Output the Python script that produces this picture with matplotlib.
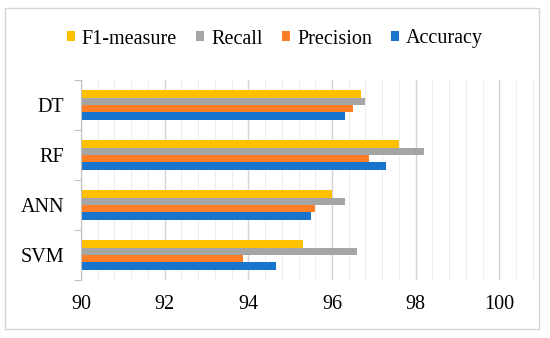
"""Grouped horizontal bar chart: classifier metrics."""

import matplotlib
matplotlib.use("Agg")
import matplotlib.pyplot as plt
import numpy as np
from matplotlib.patches import Rectangle, Patch
from matplotlib.ticker import MultipleLocator, FixedLocator

models = ["SVM", "ANN", "RF", "DT"]
series = ["Accuracy", "Precision", "Recall", "F1-measure"]
accuracy = [94.65, 95.49, 97.30, 96.30]
precision = [93.88, 95.59, 96.89, 96.49]
recall = [96.59, 96.30, 98.20, 96.80]
f1_measure = [95.30, 96.00, 97.59, 96.70]
x_ticks = [90, 92, 94, 96, 98, 100]

colors = {
    "Accuracy": "#1874CD",
    "Precision": "#FF7F27",
    "Recall": "#A5A5A5",
    "F1-measure": "#FFC000",
}

plt.rcParams["font.family"] = ["Liberation Serif", "DejaVu Serif"]
fs = 14.5

fig = plt.figure(figsize=(5.5, 3.38), dpi=100)
ax = fig.add_axes([81 / 550, 1 - 280 / 338, (537 - 81) / 550, 200 / 338])

# chart border
fig.patches.append(Rectangle(
    (5 / 550, 1 - 329 / 338), (539 - 5) / 550, (329 - 8) / 338,
    transform=fig.transFigure, facecolor="none", edgecolor="#D6D6D6",
    linewidth=1.0))

y = np.arange(len(models))
h = 0.148
values = [accuracy, precision, recall, f1_measure]
for i, (name, vals) in enumerate(zip(series, values)):
    ax.barh(y + (i - 1.5) * h, np.array(vals) - 90, left=90, height=h,
            color=colors[name], zorder=3)

ax.set_xlim(90, 100.9)
ax.set_ylim(-0.5, len(models) - 0.5)
ax.xaxis.set_major_locator(FixedLocator(x_ticks))
ax.xaxis.set_minor_locator(MultipleLocator(0.4))
ax.grid(axis="x", which="major", color="#D4D4D4", linewidth=1.0, zorder=0)
ax.grid(axis="x", which="minor", color="#EDEDED", linewidth=0.8, zorder=0)
ax.tick_params(axis="x", which="both", length=0, labelsize=fs, pad=11)

ax.set_yticks(y)
ax.set_yticklabels(models)
ax.yaxis.set_minor_locator(FixedLocator(np.arange(-0.5, len(models), 1.0)))
ax.tick_params(axis="y", which="major", length=0, labelsize=fs, pad=12)
ax.tick_params(axis="y", which="minor", length=5, color="#BFBFBF", width=0.8)

for side in ["top", "right", "bottom"]:
    ax.spines[side].set_visible(False)
ax.spines["left"].set_color("#BFBFBF")
ax.spines["left"].set_linewidth(0.8)
ax.spines["left"].set_zorder(4)

handles = [Patch(facecolor=colors[n]) for n in reversed(series)]
fig.legend(handles, list(reversed(series)), loc="center",
           bbox_to_anchor=(0.5, 1 - 39 / 338), ncol=4, frameon=False,
           fontsize=fs, handlelength=0.4, handleheight=0.4,
           handletextpad=0.35, columnspacing=0.95)

fig.savefig("out.png", dpi=100)
